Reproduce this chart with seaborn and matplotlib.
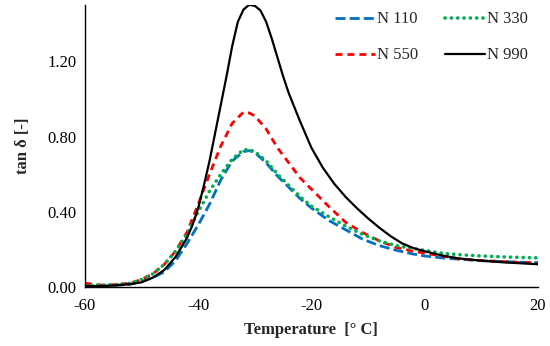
import numpy as np
import pandas as pd
import matplotlib
matplotlib.use('Agg')
import matplotlib.pyplot as plt
import seaborn as sns

# Temperature points [°C] and tan delta values
temp = [-60, -57, -55, -52, -50, -48, -46, -44, -42, -40, -38, -36, -34, -32, -31,
        -30, -28, -26, -24, -22, -20, -17, -14, -11, -8, -5, -2, 0, 3, 6, 10, 14, 17, 20]

n110 = [0.005, 0.005, 0.008, 0.015, 0.03, 0.05, 0.08, 0.14, 0.23, 0.33, 0.44, 0.57, 0.67, 0.72, 0.725,
        0.715, 0.66, 0.59, 0.53, 0.47, 0.42, 0.355, 0.305, 0.255, 0.22, 0.195, 0.175, 0.165, 0.155, 0.148,
        0.14, 0.135, 0.132, 0.13]
n330 = [0.01, 0.01, 0.012, 0.02, 0.04, 0.07, 0.12, 0.19, 0.28, 0.40, 0.51, 0.60, 0.68, 0.73, 0.73,
        0.72, 0.67, 0.60, 0.54, 0.48, 0.43, 0.375, 0.325, 0.28, 0.245, 0.22, 0.205, 0.195, 0.18, 0.172,
        0.165, 0.16, 0.157, 0.155]
n550 = [0.02, 0.01, 0.012, 0.02, 0.04, 0.07, 0.12, 0.19, 0.29, 0.44, 0.60, 0.75, 0.87, 0.93, 0.925,
        0.91, 0.84, 0.74, 0.66, 0.58, 0.52, 0.43, 0.345, 0.29, 0.245, 0.21, 0.19, 0.18, 0.165, 0.15,
        0.14, 0.135, 0.13, 0.128]

# N 990 has a sharper peak, so it gets its own denser temperature list
temp_990 = [-60, -57, -55, -52, -50, -48, -46, -44, -42, -41, -40, -39, -38, -37, -36, -35, -34,
            -33, -32, -31, -30, -29, -28, -27, -26, -25, -24, -22, -20, -18, -16, -14, -12, -10,
            -8, -6, -4, -2, 0, 3, 6, 10, 14, 17, 20]
n990 = [0.005, 0.005, 0.008, 0.015, 0.025, 0.05, 0.09, 0.16, 0.26, 0.33, 0.42, 0.54, 0.67, 0.82,
        0.97, 1.12, 1.28, 1.41, 1.475, 1.50, 1.495, 1.47, 1.41, 1.32, 1.22, 1.12, 1.03, 0.88, 0.74,
        0.635, 0.55, 0.48, 0.42, 0.365, 0.315, 0.27, 0.232, 0.207, 0.19, 0.168, 0.152, 0.14, 0.131,
        0.126, 0.121]

df = pd.DataFrame({'T': temp, 'N 110': n110, 'N 330': n330, 'N 550': n550})
df990 = pd.DataFrame({'T': temp_990, 'N 990': n990})

sns.set_style('white')
plt.rcParams['font.family'] = ['Liberation Serif', 'DejaVu Serif']
plt.rcParams['axes.unicode_minus'] = False

fig = plt.figure(figsize=(5.5, 3.46), dpi=100)
ax = fig.add_axes([0.1545, 0.1705, 0.8235, 0.8155])

styles = {
    'N 110': dict(color='#0070C0', lw=2.0, ls=(0, (3.6, 1.5))),
    'N 550': dict(color='#FF0000', lw=2.0, ls=(0, (2.5, 1.8))),
    'N 330': dict(color='#00B050', lw=2.6, ls=(0, (0.05, 1.7)), dash_capstyle='round'),
    'N 990': dict(color='black', lw=1.6, ls='-'),
}
for name in ['N 110', 'N 550', 'N 330', 'N 990']:
    st = styles[name]
    data = df990 if name == 'N 990' else df
    sns.lineplot(data=data, x='T', y=name, ax=ax, label=name, color=st['color'],
                 linewidth=st['lw'], linestyle=st['ls'],
                 dash_capstyle=st.get('dash_capstyle', 'butt'))

ax.set_xlim(-60, 20)
ax.set_ylim(0, 1.5)
ax.set_xticks([-60, -40, -20, 0, 20])
ax.set_yticks([0, 0.4, 0.8, 1.2])
ax.set_yticklabels(['0.00', '0.40', '0.80', '1.20'])
ax.tick_params(direction='in', length=5, width=1, labelsize=12, colors='black', pad=6)
ax.tick_params(axis='x', pad=8)
for side in ['top', 'right']:
    ax.spines[side].set_visible(False)
for side in ['left', 'bottom']:
    ax.spines[side].set_color('black')
    ax.spines[side].set_linewidth(1)

ax.set_xlabel('Temperature  [° C]', fontsize=12, fontweight='bold', labelpad=6)
ax.set_ylabel('tan δ [-]', fontsize=12, fontweight='bold', labelpad=12)

ax.legend(ncol=2, frameon=False, fontsize=12, loc='upper right',
          bbox_to_anchor=(1.01, 1.03), handlelength=2.4, handletextpad=0.1,
          labelspacing=1.2, columnspacing=1.6)

fig.savefig('out.png', dpi=100)
